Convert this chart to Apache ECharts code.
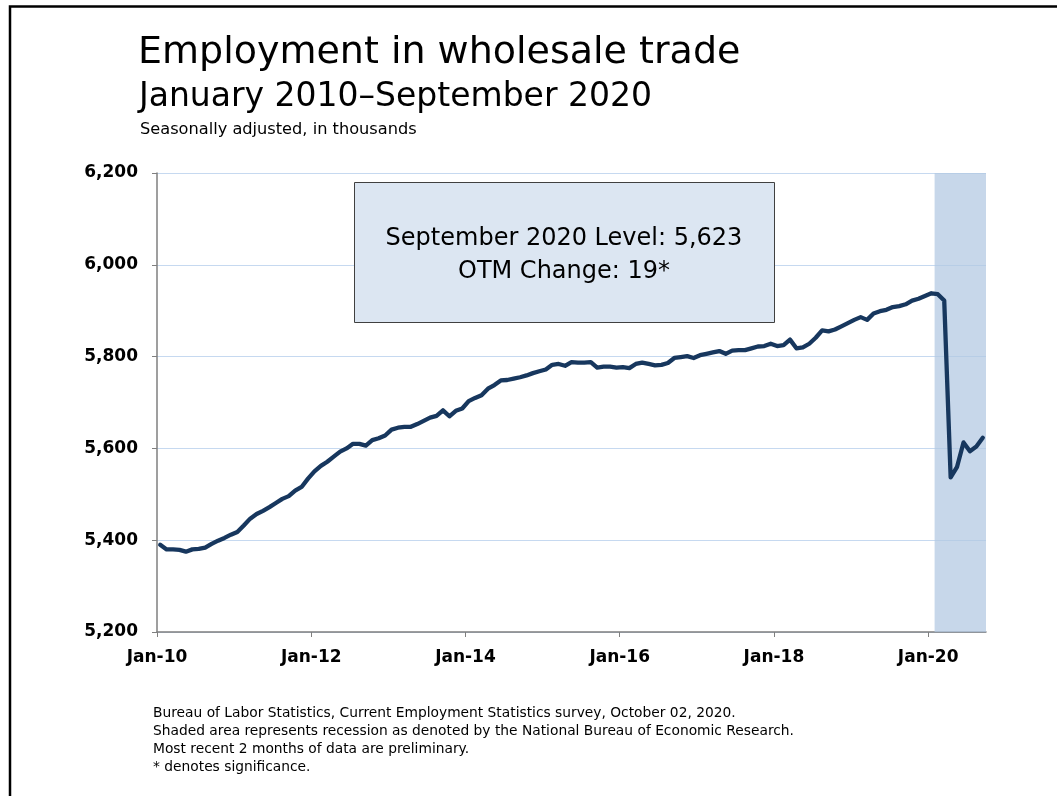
<!DOCTYPE html>
<html>
<head>
<meta charset="utf-8">
<title>Employment in wholesale trade</title>
<script src="https://cdn.jsdelivr.net/npm/echarts@6/dist/echarts.min.js"></script>
<style>
  html, body { margin: 0; padding: 0; background: #ffffff; }
  #chart { width: 1057px; height: 796px; }
</style>
</head>
<body>
<div id="chart"></div>
<script>
// Wholesale trade employment, seasonally adjusted, thousands, Jan 2010 – Sep 2020
const values2010 = [5390, 5380, 5380, 5379, 5375, 5380, 5381, 5384, 5392, 5399, 5405, 5412];
const values2011 = [5418, 5432, 5447, 5457, 5464, 5472, 5481, 5490, 5496, 5508, 5516, 5534];
const values2012 = [5550, 5562, 5571, 5582, 5593, 5600, 5610, 5610, 5606, 5618, 5622, 5628];
const values2013 = [5641, 5645, 5647, 5647, 5653, 5660, 5667, 5671, 5683, 5670, 5682, 5687];
const values2014 = [5703, 5710, 5716, 5730, 5738, 5748, 5749, 5752, 5755, 5759, 5764, 5768];
const values2015 = [5772, 5782, 5784, 5780, 5788, 5787, 5787, 5788, 5776, 5778, 5778, 5776];
const values2016 = [5777, 5775, 5784, 5787, 5784, 5781, 5782, 5786, 5797, 5799, 5801, 5797];
const values2017 = [5803, 5806, 5809, 5812, 5806, 5813, 5814, 5814, 5818, 5822, 5823, 5828];
const values2018 = [5823, 5825, 5837, 5818, 5820, 5828, 5841, 5857, 5855, 5859, 5866, 5873];
const values2019 = [5880, 5886, 5880, 5894, 5899, 5902, 5908, 5910, 5914, 5922, 5926, 5932];
const values2020 = [5938, 5936, 5922, 5537, 5560, 5613, 5594, 5604, 5623];

const tickLabels = ['Jan-10', 'Jan-12', 'Jan-14', 'Jan-16', 'Jan-18', 'Jan-20'];
const recessionStart = 'Feb-20';

const footnotes = [
  'Bureau of Labor Statistics, Current Employment Statistics survey, October 02, 2020.',
  'Shaded area represents recession as denoted by the National Bureau of Economic Research.',
  'Most recent 2 months of data are preliminary.',
  '* denotes significance.'
];

const values = [].concat(values2010, values2011, values2012, values2013, values2014,
  values2015, values2016, values2017, values2018, values2019, values2020);

// Month names for each observation, "Jan-10" ... "Sep-20"
const monNames = ['Jan','Feb','Mar','Apr','May','Jun','Jul','Aug','Sep','Oct','Nov','Dec'];
const months = values.map((_, i) => monNames[i % 12] + '-' + String(10 + Math.floor(i / 12)));

// Each month occupies one unit of the x scale; points sit mid-month
const tickPositions = tickLabels.map(l => months.indexOf(l));
const recessionIndex = months.indexOf(recessionStart);
const lineData = values.map((v, i) => [i + 0.5, v]);

const last = values[values.length - 1];
const change = last - values[values.length - 2];
const lastLabel = 'September 2020 Level: ' + last.toLocaleString('en-US');
const changeLabel = 'OTM Change: ' + change + '*';

const FONT = 'DejaVu Sans';
const chart = echarts.init(document.getElementById('chart'), null, { renderer: 'canvas' });

const footGraphics = footnotes.map((t, i) => ({
  type: 'text', left: 153, top: 706 + i * 18, silent: true,
  style: { text: t, font: '13.8px "' + FONT + '"', fill: '#000000' }
}));

chart.setOption({
  animation: false,
  backgroundColor: '#ffffff',
  textStyle: { fontFamily: FONT },
  grid: { left: 157, right: 71, top: 173, bottom: 164 },
  xAxis: {
    type: 'value',
    min: 0,
    max: values.length,
    splitLine: { show: false },
    axisLine: { show: true, lineStyle: { color: '#7f7f7f', width: 1.5 } },
    axisTick: { show: true, length: 5, lineStyle: { color: '#7f7f7f' }, customValues: tickPositions },
    axisLabel: {
      customValues: tickPositions,
      formatter: v => months[Math.round(v)] || '',
      color: '#000000', fontWeight: 'bold', fontSize: 17, fontFamily: FONT, margin: 17
    }
  },
  yAxis: {
    type: 'value',
    min: 5200,
    max: 6200,
    interval: 200,
    axisLine: { show: true, lineStyle: { color: '#7f7f7f', width: 1.5 } },
    axisTick: { show: true, length: 5, lineStyle: { color: '#7f7f7f' } },
    axisLabel: {
      formatter: v => v.toLocaleString('en-US'),
      color: '#000000', fontWeight: 'bold', fontSize: 17, fontFamily: FONT, margin: 19
    },
    splitLine: { show: true, lineStyle: { color: '#c6d9f0', width: 1.2 } }
  },
  series: [{
    type: 'line',
    data: lineData,
    showSymbol: false,
    z: 5,
    lineStyle: { color: '#17375e', width: 4.3, join: 'round', cap: 'round' },
    markArea: {
      silent: true,
      z: 1,
      itemStyle: { color: 'rgba(178,199,226,0.72)' },
      data: [[{ xAxis: recessionIndex }, { xAxis: values.length }]]
    }
  }],
  graphic: [
    // page frame along the top and left edges
    { type: 'polyline', silent: true, z: 100,
      shape: { points: [[10, 800], [10, 6.5], [1060, 6.5]] },
      style: { stroke: '#000000', lineWidth: 2.5, fill: null } },
    { type: 'text', left: 138, top: 34, silent: true,
      style: { text: 'Employment in wholesale trade', font: '38px "' + FONT + '"', fill: '#000000' } },
    { type: 'text', left: 139, top: 81, silent: true,
      style: { text: 'January 2010\u2013September 2020', font: '33px "' + FONT + '"', fill: '#000000' } },
    { type: 'text', left: 140, top: 122, silent: true,
      style: { text: 'Seasonally adjusted, in thousands', font: '16.2px "' + FONT + '"', fill: '#000000' } },
    // value callout
    { type: 'rect', left: 354, top: 182, z: 50, silent: true,
      shape: { x: 0, y: 0, width: 420, height: 140 },
      style: { fill: '#dce6f2', stroke: '#404040', lineWidth: 1 } },
    { type: 'text', x: 564, y: 239, z: 51, silent: true,
      style: { text: lastLabel, font: '24px "' + FONT + '"', fill: '#000000', align: 'center', verticalAlign: 'middle' } },
    { type: 'text', x: 564, y: 272, z: 51, silent: true,
      style: { text: changeLabel, font: '24px "' + FONT + '"', fill: '#000000', align: 'center', verticalAlign: 'middle' } }
  ].concat(footGraphics)
});
</script>
</body>
</html>
